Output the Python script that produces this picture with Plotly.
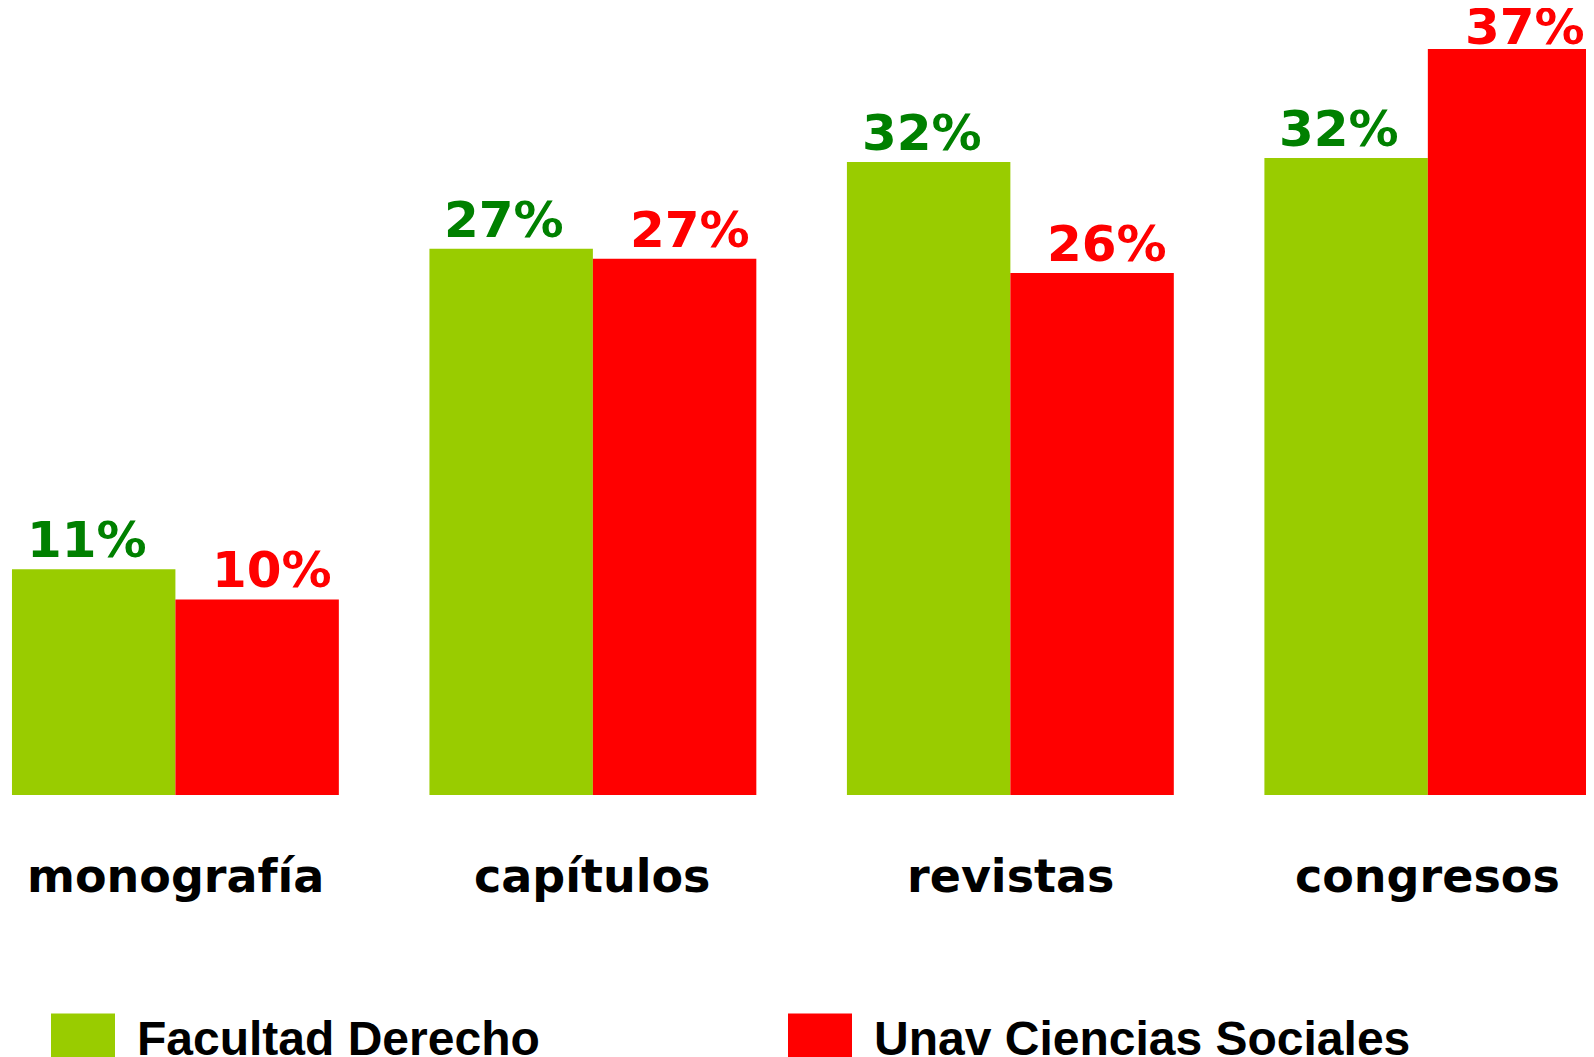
import plotly.graph_objects as go

categories = ["monografía", "capítulos", "revistas", "congresos"]
series_names = ["Facultad Derecho", "Unav Ciencias Sociales"]
derecho_values = [11.2, 27.1, 31.4, 31.6]
sociales_values = [9.7, 26.6, 25.9, 37.0]
derecho_labels = ["11%", "27%", "32%", "32%"]
sociales_labels = ["10%", "27%", "26%", "37%"]

bar_colors = ["#99CC00", "#FF0000"]
label_colors = ["#008000", "#FF0000"]

BARGAP = 0.217
YMAX = 39.04
x_pos = list(range(len(categories)))
half = (1 - BARGAP) / 4  # offset of each bar centre from the category centre

fig = go.Figure()
series = [
    (series_names[0], derecho_values, derecho_labels, bar_colors[0], label_colors[0], -half, -7),
    (series_names[1], sociales_values, sociales_labels, bar_colors[1], label_colors[1], half, 15),
]
for name, vals, labels, bc, lc, off, xs in series:
    fig.add_trace(go.Bar(
        x=x_pos, y=vals, name=name,
        marker=dict(color=bc, line=dict(width=0)),
        showlegend=False,
    ))
    for i, (v, t) in enumerate(zip(vals, labels)):
        ys = -2 if v < 0.9 * YMAX else -9   # keep the top label inside the page
        fig.add_annotation(x=i + off, y=v, xref="x", yref="y", text=t, showarrow=False,
                           xanchor="center", yanchor="bottom", xshift=xs, yshift=ys,
                           font=dict(family="DejaVu Sans", size=50, color=lc, weight="bold"))

# category labels
for i, c in enumerate(categories):
    fig.add_annotation(x=i, y=0, xref="x", yref="y", text=c, showarrow=False,
                       yanchor="middle", yshift=-81,
                       font=dict(family="DejaVu Sans", size=46, color="black", weight="bold"))

W, H = 1586, 1049   # page body has an 8px margin
BASE = 787          # baseline of the bars in figure pixels

# legend drawn manually
legend_items = [(43, 107, 127), (780, 844, 864)]
for (x0, x1, tx), name, col in zip(legend_items, series_names, bar_colors):
    fig.add_shape(type="rect", xref="paper", yref="paper",
                  x0=x0 / W, x1=x1 / W,
                  y0=(BASE - H) / BASE - 0.02, y1=(BASE - 1005.6) / BASE,
                  fillcolor=col, line=dict(width=0), layer="above")
    fig.add_annotation(xref="paper", yref="paper", x=tx / W,
                       y=(BASE - 1030) / BASE, text=name, showarrow=False,
                       xanchor="left", yanchor="middle",
                       font=dict(family="Liberation Sans", size=48,
                                 color="black", weight="bold"))

fig.update_layout(
    width=W, height=H,
    margin=dict(l=0, r=0, t=0, b=H - BASE),
    paper_bgcolor="white", plot_bgcolor="white",
    barmode="group", bargap=BARGAP, bargroupgap=0,
    xaxis=dict(range=[-0.401, 3.398], showticklabels=False, showgrid=False,
               zeroline=False, showline=False, ticks=""),
    yaxis=dict(range=[0, YMAX], visible=False),
)

fig.write_html("out.html")
